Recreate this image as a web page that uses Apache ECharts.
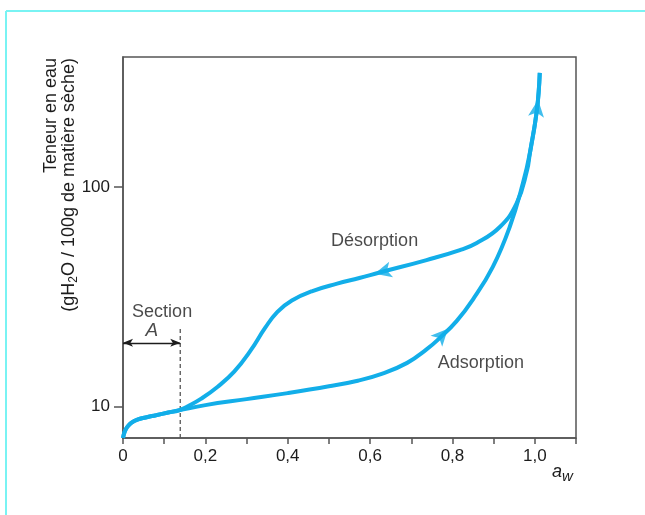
<!DOCTYPE html>
<html><head><meta charset="utf-8">
<script src="https://cdn.jsdelivr.net/npm/echarts@6/dist/echarts.min.js"></script>
<style>html,body{margin:0;padding:0;background:#fff}#c{width:645px;height:515px}</style>
</head><body><div id="c"></div>
<script>
// ---- data ----
const adsorptionAw  = [0, 0.004, 0.01, 0.02, 0.035, 0.055, 0.08, 0.11, 0.136, 0.2, 0.3, 0.4, 0.5, 0.57, 0.63, 0.69, 0.737, 0.769, 0.81, 0.85, 0.898, 0.939, 0.971, 0.988, 1.005, 1.012];
const adsorptionVal = [7.18, 7.67, 8.05, 8.41, 8.71, 8.91, 9.12, 9.38, 9.6, 10.14, 10.8, 11.5, 12.35, 13.1, 14.1, 15.8, 18.2, 20.5, 24.5, 30.8, 43.3, 65.8, 104, 143, 224, 332];
const desorptionAw  = [0, 0.004, 0.01, 0.02, 0.035, 0.055, 0.08, 0.11, 0.136, 0.16, 0.19, 0.23, 0.27, 0.31, 0.345, 0.375, 0.41, 0.46, 0.52, 0.574, 0.623, 0.737, 0.818, 0.859, 0.915, 0.956, 0.981, 0.988, 1.005, 1.012];
const desorptionVal = [7.18, 7.67, 8.05, 8.41, 8.71, 8.91, 9.12, 9.38, 9.6, 10.07, 10.85, 12.3, 14.4, 18.0, 22.8, 27.0, 30.4, 33.6, 36.3, 38.5, 40.8, 46.5, 51.6, 55.6, 65.8, 84.5, 119, 143, 224, 332];
const arrowAw    = [0.611, 0.789, 1.008];
const arrowVal   = [40.3, 22.6, 250];
const arrowAngle = [104, -43, -7];
const annotationText = ['Désorption', 'Adsorption', 'Section', '{it|A}'];
const annotationAw   = [0.611, 0.869, 0.095, 0.070];
const annotationVal  = [56.9, 15.8, 26.9, 22.1];
const sectionAw = 0.139;
const sectionTop = 22.9;
const sectionArrowVal = 19.5;
const yMin = 7.18, yMax = 392;
const yTickValues = [10, 100];
const xTickLabels = ['0', '0,2', '0,4', '0,6', '0,8', '1,0'];
const yTitle1 = 'Teneur en eau';
const yTitle2 = '(gH{sub|2}O / 100g de matière sèche)';

const FONT = 'Liberation Sans, Arial, sans-serif';
const CURVE = '#12aee9';
const AXIS = '#555';
const TEXT = '#1c1c1c';

const zip = (a, b) => a.map((v, i) => [v, b[i]]);

const chart = echarts.init(document.getElementById('c'), null, {renderer: 'canvas'});
chart.setOption({
  animation: false,
  backgroundColor: '#fff',
  grid: {left: 123, right: 69, top: 57, bottom: 77, show: true, borderColor: AXIS, borderWidth: 1.5},
  xAxis: {
    type: 'value', min: 0, max: 1.1, interval: 0.1,
    axisLine: {show: true, onZero: false, lineStyle: {color: AXIS, width: 1.5}},
    axisTick: {show: true, inside: false, length: 6, lineStyle: {color: AXIS, width: 1.5}},
    axisLabel: {
      margin: 10, fontSize: 17, color: TEXT, fontFamily: FONT,
      showMaxLabel: true,
      formatter: v => { const k = Math.round(v * 10); return (k % 2 === 0 && k <= 10) ? xTickLabels[k / 2] : ''; }
    },
    splitLine: {show: false}
  },
  yAxis: {
    type: 'log', logBase: 10, min: yMin, max: yMax,
    axisLine: {show: true, lineStyle: {color: AXIS, width: 1.5}},
    axisTick: {show: true, length: 9, customValues: yTickValues, lineStyle: {color: AXIS, width: 1.5}},
    axisLabel: {customValues: yTickValues, margin: 13, fontSize: 17, color: TEXT, fontFamily: FONT},
    splitLine: {show: false}
  },
  series: [
    {name: 'Désorption', type: 'line', data: zip(desorptionAw, desorptionVal), smooth: 0.45, showSymbol: false,
     lineStyle: {color: CURVE, width: 4}, z: 3},
    {name: 'Adsorption', type: 'line', data: zip(adsorptionAw, adsorptionVal), smooth: 0.45, showSymbol: false,
     lineStyle: {color: CURVE, width: 4}, z: 3},
    {name: 'arrows', type: 'scatter', symbol: 'arrow', symbolSize: [12, 17],
     data: arrowAw.map((x, i) => ({value: [x, arrowVal[i]], symbolRotate: arrowAngle[i]})),
     itemStyle: {color: CURVE}, z: 4},
    {name: 'section', type: 'line', data: [[sectionAw, yMin], [sectionAw, sectionTop]], showSymbol: false,
     lineStyle: {color: AXIS, width: 1.3, type: [4, 3]}, z: 2,
     markLine: {silent: true, symbol: ['arrow', 'arrow'], symbolSize: [6, 10],
       lineStyle: {color: TEXT, width: 1.3, type: 'solid'}, label: {show: false},
       data: [[{coord: [0, sectionArrowVal]}, {coord: [sectionAw, sectionArrowVal]}]]}},
    {name: 'annotations', type: 'scatter', symbolSize: 0, z: 5,
     data: annotationAw.map((x, i) => ({value: [x, annotationVal[i]], name: annotationText[i]})),
     label: {show: true, position: 'inside', formatter: p => p.name, fontSize: 18, color: TEXT, fontFamily: FONT,
       rich: {it: {fontSize: 19, fontStyle: 'italic', color: TEXT, fontFamily: FONT}}}}
  ],
  graphic: [
    {type: 'line', shape: {x1: 6, y1: 11, x2: 645, y2: 11}, style: {stroke: '#79f3f3', lineWidth: 2}},
    {type: 'line', shape: {x1: 6, y1: 11, x2: 6, y2: 515}, style: {stroke: '#79f3f3', lineWidth: 2}},
    {type: 'text', x: 51, y: 58, rotation: Math.PI / 2,
     style: {text: yTitle1, font: '18px ' + FONT, fill: TEXT, align: 'right', verticalAlign: 'middle'}},
    {type: 'text', x: 69, y: 58, rotation: Math.PI / 2,
     style: {text: yTitle2, font: '18px ' + FONT, fill: TEXT, align: 'right', verticalAlign: 'middle',
       rich: {sub: {fontSize: 12, fontFamily: FONT, fill: TEXT, padding: [10, 0, 0, 0]}}}},
    {type: 'text', x: 552, y: 472,
     style: {text: '{a|a}{w|w}', fill: TEXT, verticalAlign: 'middle',
       rich: {a: {fontSize: 18, fontStyle: 'italic', fontFamily: FONT, fill: TEXT},
              w: {fontSize: 15, fontStyle: 'italic', fontFamily: FONT, fill: TEXT, padding: [10, 0, 0, 0]}}}}
  ]
});
</script></body></html>
